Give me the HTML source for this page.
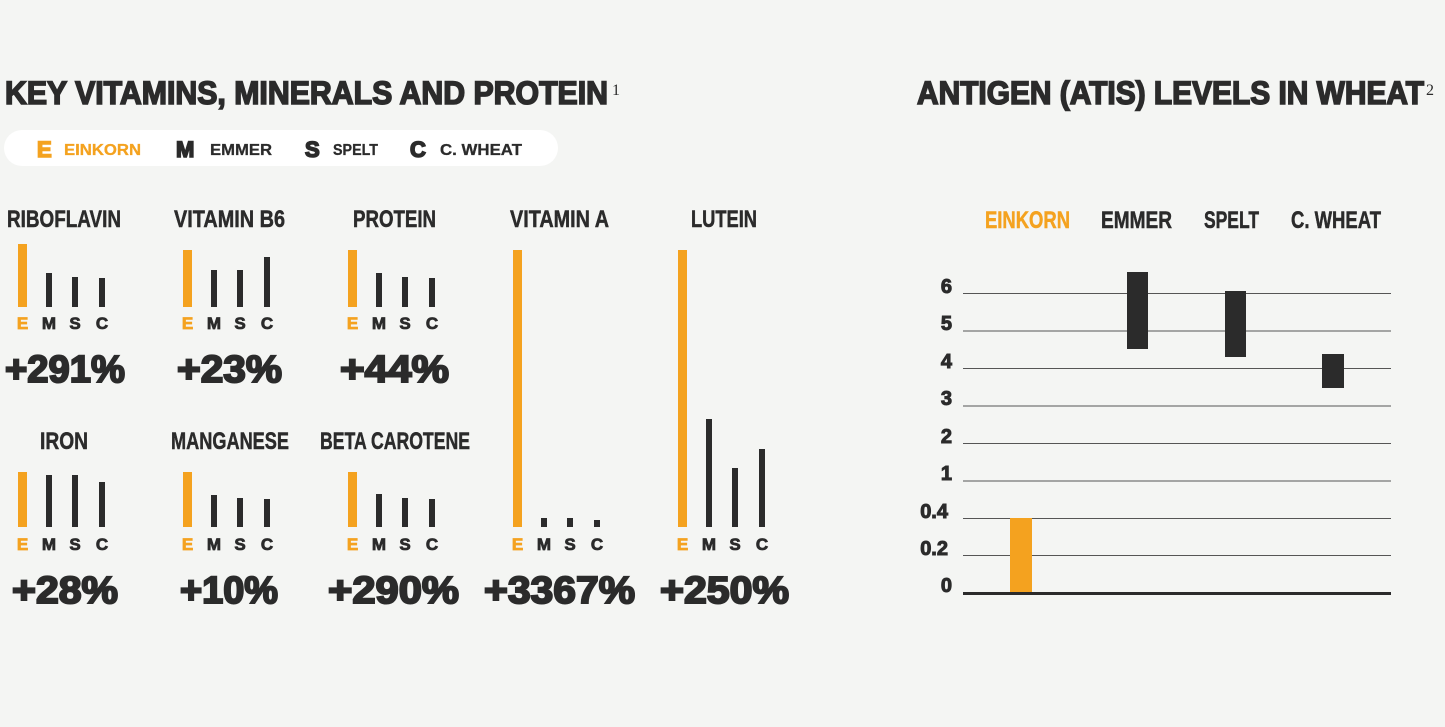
<!DOCTYPE html>
<html><head><meta charset="utf-8"><style>
html,body{margin:0;padding:0;background:#f4f5f3;}
svg{display:block;}
.h{font-family:"Liberation Sans",sans-serif;font-weight:bold;fill:#2b2b2b;stroke:#2b2b2b;stroke-width:0.8;}
.b{stroke-width:1.6;}
.n{font-family:"Liberation Sans Narrow","Liberation Sans",sans-serif;font-weight:bold;fill:#2b2b2b;stroke:#2b2b2b;stroke-width:0.5;}
.o{fill:#f4a21f;stroke:#f4a21f;}
</style></head><body>
<svg width="1445" height="727" viewBox="0 0 1445 727" xmlns="http://www.w3.org/2000/svg">
<rect width="1445" height="727" fill="#f4f5f3"/>
<text class="h b" x="5" y="104" font-size="32" textLength="603" lengthAdjust="spacingAndGlyphs">KEY VITAMINS, MINERALS AND PROTEIN</text>
<text x="612" y="95" font-family="Liberation Serif,serif" font-size="16" fill="#2b2b2b">1</text>
<rect x="4" y="130" width="554" height="36" rx="18" fill="#fff"/>
<text class="h o b" x="37" y="157" font-size="22">E</text>
<text class="h o" x="64" y="155" font-size="16" textLength="77" lengthAdjust="spacingAndGlyphs" style="stroke-width:0.3">EINKORN</text>
<text class="h b" x="176" y="157" font-size="22">M</text>
<text class="h" x="210" y="155" font-size="16" textLength="62" lengthAdjust="spacingAndGlyphs" style="stroke-width:0.3">EMMER</text>
<text class="h b" x="305" y="157" font-size="22">S</text>
<text class="h" x="333" y="155" font-size="16" textLength="45" lengthAdjust="spacingAndGlyphs" style="stroke-width:0.3">SPELT</text>
<text class="h b" x="410" y="157" font-size="22">C</text>
<text class="h" x="440" y="155" font-size="16" textLength="82" lengthAdjust="spacingAndGlyphs" style="stroke-width:0.3">C. WHEAT</text>

<g class="n" font-size="24">
<text x="7" y="227" textLength="114" lengthAdjust="spacingAndGlyphs">RIBOFLAVIN</text>
<text x="174" y="227" textLength="111" lengthAdjust="spacingAndGlyphs">VITAMIN B6</text>
<text x="353" y="227" textLength="83" lengthAdjust="spacingAndGlyphs">PROTEIN</text>
<text x="510" y="227" textLength="99" lengthAdjust="spacingAndGlyphs">VITAMIN A</text>
<text x="691" y="227" textLength="66" lengthAdjust="spacingAndGlyphs">LUTEIN</text>
<text x="40" y="449" textLength="48" lengthAdjust="spacingAndGlyphs">IRON</text>
<text x="171" y="449" textLength="118" lengthAdjust="spacingAndGlyphs">MANGANESE</text>
<text x="320" y="449" textLength="150" lengthAdjust="spacingAndGlyphs">BETA CAROTENE</text>
</g>

<g fill="#2b2b2b">
<rect fill="#f4a21f" x="18" y="244" width="9" height="63"/><rect x="46" y="273" width="6" height="34"/><rect x="72" y="277" width="6" height="30"/><rect x="99" y="278" width="6" height="29"/>
<rect fill="#f4a21f" x="183" y="250" width="9" height="57"/><rect x="211" y="270" width="6" height="37"/><rect x="237" y="270" width="6" height="37"/><rect x="264" y="257" width="6" height="50"/>
<rect fill="#f4a21f" x="348" y="250" width="9" height="57"/><rect x="376" y="273" width="6" height="34"/><rect x="402" y="277" width="6" height="30"/><rect x="429" y="278" width="6" height="29"/>
<rect fill="#f4a21f" x="513" y="250" width="9" height="277"/><rect x="541" y="518" width="6" height="9"/><rect x="567" y="518" width="6" height="9"/><rect x="594" y="520" width="6" height="7"/>
<rect fill="#f4a21f" x="678" y="250" width="9" height="277"/><rect x="706" y="419" width="6" height="108"/><rect x="732" y="468" width="6" height="59"/><rect x="759" y="449" width="6" height="78"/>
<rect fill="#f4a21f" x="18" y="472" width="9" height="55"/><rect x="46" y="475" width="6" height="52"/><rect x="72" y="475" width="6" height="52"/><rect x="99" y="482" width="6" height="45"/>
<rect fill="#f4a21f" x="183" y="472" width="9" height="55"/><rect x="211" y="495" width="6" height="32"/><rect x="237" y="498" width="6" height="29"/><rect x="264" y="499" width="6" height="28"/>
<rect fill="#f4a21f" x="348" y="472" width="9" height="55"/><rect x="376" y="494" width="6" height="33"/><rect x="402" y="498" width="6" height="29"/><rect x="429" y="499" width="6" height="28"/>
</g>

<g class="h" font-size="17" text-anchor="middle">
<g transform="translate(0,329)">
<text class="o" x="22.5">E</text><text x="49">M</text><text x="75">S</text><text x="102">C</text>
<text class="o" x="187.5">E</text><text x="214">M</text><text x="240">S</text><text x="267">C</text>
<text class="o" x="352.5">E</text><text x="379">M</text><text x="405">S</text><text x="432">C</text>
</g>
<g transform="translate(0,550)">
<text class="o" x="22.5">E</text><text x="49">M</text><text x="75">S</text><text x="102">C</text>
<text class="o" x="187.5">E</text><text x="214">M</text><text x="240">S</text><text x="267">C</text>
<text class="o" x="352.5">E</text><text x="379">M</text><text x="405">S</text><text x="432">C</text>
<text class="o" x="517.5">E</text><text x="544">M</text><text x="570">S</text><text x="597">C</text>
<text class="o" x="682.5">E</text><text x="709">M</text><text x="735">S</text><text x="762">C</text>
</g>
</g>

<g class="h" font-size="38" style="stroke-width:2">
<text x="5" y="382" textLength="120" lengthAdjust="spacingAndGlyphs">+291%</text>
<text x="177" y="382" textLength="105" lengthAdjust="spacingAndGlyphs">+23%</text>
<text x="340" y="382" textLength="109" lengthAdjust="spacingAndGlyphs">+44%</text>
<text x="12" y="603" textLength="106" lengthAdjust="spacingAndGlyphs">+28%</text>
<text x="180" y="603" textLength="98" lengthAdjust="spacingAndGlyphs">+10%</text>
<text x="328" y="603" textLength="131" lengthAdjust="spacingAndGlyphs">+290%</text>
<text x="484" y="603" textLength="151" lengthAdjust="spacingAndGlyphs">+3367%</text>
<text x="660" y="603" textLength="129" lengthAdjust="spacingAndGlyphs">+250%</text>
</g>

<text class="h b" x="917" y="104" font-size="32" textLength="507" lengthAdjust="spacingAndGlyphs">ANTIGEN (ATIS) LEVELS IN WHEAT</text>
<text x="1426" y="95" font-family="Liberation Serif,serif" font-size="16" fill="#2b2b2b">2</text>
<g class="n" font-size="24">
<text class="o" x="985" y="228" textLength="85" lengthAdjust="spacingAndGlyphs">EINKORN</text>
<text x="1101" y="228" textLength="71" lengthAdjust="spacingAndGlyphs">EMMER</text>
<text x="1204" y="228" textLength="55" lengthAdjust="spacingAndGlyphs">SPELT</text>
<text x="1291" y="228" textLength="90" lengthAdjust="spacingAndGlyphs">C. WHEAT</text>
</g>
<g stroke="#555" stroke-width="1">
<line x1="963" x2="1391" y1="293.5" y2="293.5"/>
<line x1="963" x2="1391" y1="331" y2="331"/>
<line x1="963" x2="1391" y1="368.5" y2="368.5"/>
<line x1="963" x2="1391" y1="406" y2="406"/>
<line x1="963" x2="1391" y1="443.5" y2="443.5"/>
<line x1="963" x2="1391" y1="481" y2="481"/>
<line x1="963" x2="1391" y1="518.5" y2="518.5"/>
<line x1="963" x2="1391" y1="555.5" y2="555.5"/>
</g>
<g class="h" font-size="20" text-anchor="end" style="stroke-width:1">
<text x="952" y="293">6</text><text x="952" y="330">5</text><text x="952" y="368">4</text><text x="952" y="405">3</text>
<text x="952" y="443">2</text><text x="952" y="480">1</text><text x="948" y="518">0.4</text><text x="948" y="555">0.2</text><text x="952" y="592">0</text>
</g>
<rect fill="#f4a21f" x="1010" y="518" width="22" height="75"/>
<g fill="#2b2b2b">
<rect x="1127" y="272" width="21" height="77"/>
<rect x="1225" y="291" width="21" height="66"/>
<rect x="1322" y="354" width="22" height="34"/>
<rect x="963" y="592" width="428" height="3"/>
</g>
</svg>
</body></html>
